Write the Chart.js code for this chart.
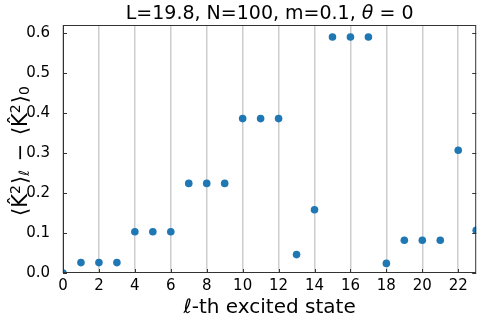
<!DOCTYPE html>
<html>
<head>
<meta charset="utf-8">
<script src="https://cdn.jsdelivr.net/npm/chart.js@4"></script>
<style>
    html, body { margin: 0; padding: 0; background: #fff; }
    #wrap { width: 480px; height: 320px; }
</style>
</head>
<body>
<div id="wrap"><canvas id="chart" width="480" height="320"></canvas></div>
<script>
// Données
const states = [0, 1, 2, 3, 4, 5, 6, 7, 8, 9, 10, 11, 12, 13, 14, 15, 16, 17, 18, 19, 20, 21, 22, 23];
const deltaK2 = [0.0, 0.026, 0.026, 0.026, 0.103, 0.103, 0.103, 0.224, 0.224, 0.224,
    0.386, 0.386, 0.386, 0.046, 0.158, 0.590, 0.590, 0.590, 0.024, 0.082, 0.082, 0.082, 0.307, 0.107];
const xTicks = [0, 2, 4, 6, 8, 10, 12, 14, 16, 18, 20, 22];
const yTicks = [0.0, 0.1, 0.2, 0.3, 0.4, 0.5, 0.6];

const FONT = '"DejaVu Sans", sans-serif';

/**
 * Écrit un texte composé de morceaux (police, décalage vertical)
 */
const drawRich = (ctx, segs, x, y) => {
    let total = 0;
    segs.forEach(s => {
        ctx.font = s.font;
        total += ctx.measureText(s.text).width + (s.gap || 0);
    });
    let cx = x - total / 2;
    ctx.textAlign = 'left';
    ctx.textBaseline = 'alphabetic';
    segs.forEach(s => {
        ctx.font = s.font;
        ctx.fillText(s.text, cx, y + (s.dy || 0));
        cx += ctx.measureText(s.text).width + (s.gap || 0);
    });
};

// Cadre, graduations vers l'intérieur et textes
const decorPlugin = {
    id: 'decor',
    afterDraw(chart) {
        const { ctx, chartArea: a, scales } = chart;
        ctx.save();
        ctx.strokeStyle = '#333';
        ctx.lineWidth = 1;
        ctx.strokeRect(a.left + 0.5, a.top + 0.5, a.right - a.left - 1, a.bottom - a.top - 1);

        ctx.beginPath();
        yTicks.forEach(v => {
            const py = Math.round(scales.y.getPixelForValue(v)) + 0.5;
            ctx.moveTo(a.left, py); ctx.lineTo(a.left + 4, py);
            ctx.moveTo(a.right, py); ctx.lineTo(a.right - 4, py);
        });
        xTicks.forEach(v => {
            const px = Math.round(scales.x.getPixelForValue(v)) + 0.5;
            ctx.moveTo(px, a.bottom); ctx.lineTo(px, a.bottom - 4);
        });
        ctx.stroke();

        ctx.fillStyle = '#000';
        // Titre
        drawRich(ctx, [
            { text: 'L=19.8, N=100, m=0.1, ', font: `19px ${FONT}` },
            { text: 'θ', font: `italic 19px ${FONT}` },
            { text: ' = 0', font: `19px ${FONT}` }
        ], (a.left + a.right) / 2, 19);

        // Titre de l'axe x
        drawRich(ctx, [
            { text: 'ℓ', font: `italic 20px ${FONT}` },
            { text: '-th excited state', font: `20px ${FONT}` }
        ], (a.left + a.right) / 2, 313);

        // Titre de l'axe y (vertical)
        ctx.save();
        ctx.translate(27, 151);
        ctx.rotate(-Math.PI / 2);
        const big = `21px ${FONT}`;
        const small = `14px ${FONT}`;
        drawRich(ctx, [
            { text: '⟨K\u0302', font: big },
            { text: '2', font: small, dy: -7, gap: 1 },
            { text: '⟩', font: big },
            { text: 'ℓ', font: `italic 14px ${FONT}`, dy: 2, gap: 2 },
            { text: ' − ', font: big, gap: 2 },
            { text: '⟨K\u0302', font: big },
            { text: '2', font: small, dy: -7, gap: 1 },
            { text: '⟩', font: big },
            { text: '0', font: small, dy: 2 }
        ], 0, 0);
        ctx.restore();
        ctx.restore();
    }
};

const ctx = document.getElementById('chart').getContext('2d');

new Chart(ctx, {
    type: 'scatter',
    data: {
        datasets: [{
            data: states.map((s, i) => ({ x: s, y: deltaK2[i] })),
            backgroundColor: '#1f77b4',
            borderWidth: 0,
            pointRadius: 3.8,
            pointHoverRadius: 3.8
        }]
    },
    options: {
        responsive: false,
        animation: false,
        events: [],
        layout: { padding: { top: 25, right: 3, left: 0, bottom: 0 } },
        plugins: {
            legend: { display: false },
            tooltip: { enabled: false }
        },
        scales: {
            x: {
                type: 'linear',
                min: 0,
                max: 23,
                afterBuildTicks: scale => {
                    scale.ticks = xTicks.map(v => ({ value: v }));
                },
                afterFit: scale => { scale.height = 47; },
                grid: { color: '#cdcdcd', lineWidth: 1.5, drawTicks: false },
                border: { display: false },
                ticks: {
                    padding: 4,
                    color: '#000',
                    font: { family: FONT, size: 15 },
                    maxRotation: 0,
                    callback: v => String(v)
                }
            },
            y: {
                type: 'linear',
                min: 0,
                max: 0.62,
                afterBuildTicks: scale => {
                    scale.ticks = yTicks.map(v => ({ value: v }));
                },
                afterFit: scale => { scale.width = 63; },
                grid: { display: false },
                border: { display: false },
                ticks: {
                    padding: 5,
                    color: '#000',
                    font: { family: FONT, size: 15 },
                    callback: v => v.toFixed(1)
                }
            }
        }
    },
    plugins: [decorPlugin]
});
</script>
</body>
</html>
